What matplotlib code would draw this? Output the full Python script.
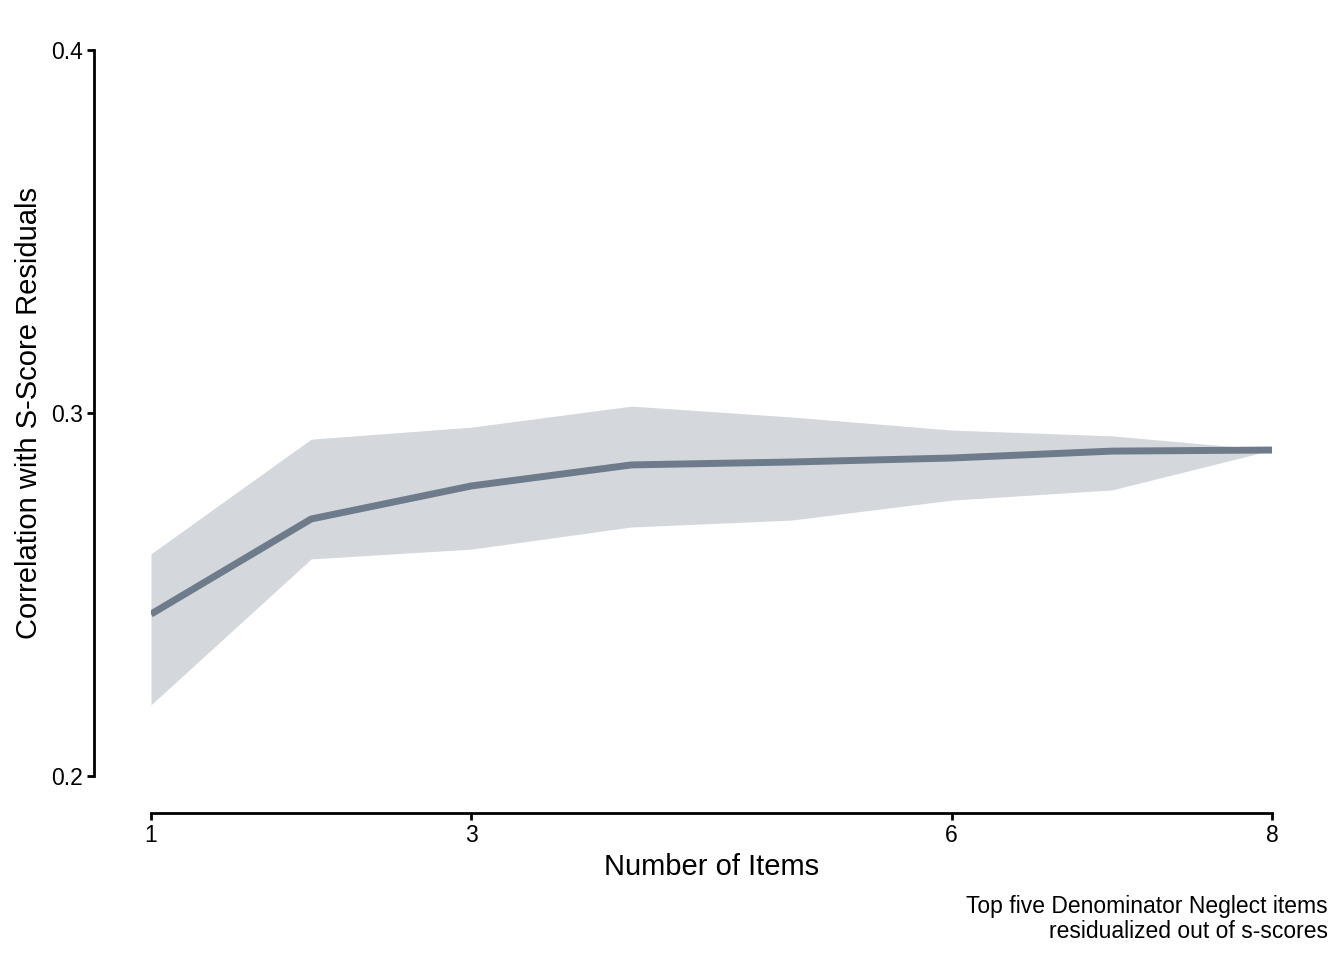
import matplotlib
matplotlib.use("Agg")
from matplotlib import pyplot as plt

plt.rcParams['font.family'] = ['Liberation Sans', 'DejaVu Sans']

n_items = [1, 2, 3, 4, 5, 6, 7, 8]
corr = [0.2446, 0.2708, 0.2799, 0.2857, 0.2865, 0.2876, 0.2895, 0.2898]
upper = [0.2612, 0.2928, 0.2961, 0.3019, 0.2989, 0.2953, 0.2937, 0.2898]
lower = [0.2196, 0.2598, 0.2625, 0.2686, 0.2705, 0.2760, 0.2788, 0.2898]
xticks = [1, 3, 6, 8]
yticks = [0.2, 0.3, 0.4]

fig = plt.figure(figsize=(13.44, 9.6), dpi=100)
ax = fig.add_axes([151/1344, 1 - 776/960, 1121/1344, 726/960])

ax.fill_between(n_items, lower, upper, color='#D4D8DC', lw=0)
ax.plot(n_items, corr, color='#6E7B8B', lw=5, solid_capstyle='butt')

ax.set_xlim(1, 8)
ax.set_ylim(0.2, 0.4)
ax.set_xticks(xticks)
ax.set_xticklabels([str(t) for t in xticks])
ax.set_yticks(yticks)
ax.set_yticklabels([f'{t:.1f}' for t in yticks])

for s in ['top', 'right']:
    ax.spines[s].set_visible(False)
# offsets in points (px / 1.389)
ax.spines['left'].set_position(('outward', 41))
ax.spines['bottom'].set_position(('outward', 26.6))
ax.spines['left'].set_linewidth(2)
ax.spines['bottom'].set_linewidth(2)
ax.tick_params(length=5, width=2, labelsize=16.5, colors='black', pad=3)

ax.set_xlabel('Number of Items', fontsize=21, labelpad=4)
ax.set_ylabel('Correlation with S-Score Residuals', fontsize=21, labelpad=6)

fig.text(1328/1344, 1 - 895/960, 'Top five Denominator Neglect items\nresidualized out of s-scores',
         ha='right', va='top', fontsize=16.5, linespacing=1.1)

fig.savefig('out.png', dpi=100)
